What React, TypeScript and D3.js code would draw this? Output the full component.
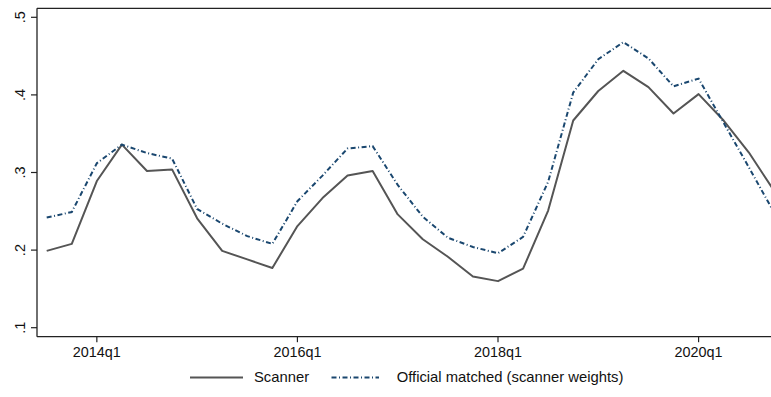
import React from "react";
import * as d3 from "d3";

// Quarterly series, 2013q3 through 2020q4
const quarters = [
  "2013q3", "2013q4", "2014q1", "2014q2", "2014q3", "2014q4",
  "2015q1", "2015q2", "2015q3", "2015q4", "2016q1", "2016q2",
  "2016q3", "2016q4", "2017q1", "2017q2", "2017q3", "2017q4",
  "2018q1", "2018q2", "2018q3", "2018q4", "2019q1", "2019q2",
  "2019q3", "2019q4", "2020q1", "2020q2", "2020q3", "2020q4",
];

const scanner = [
  0.199, 0.208, 0.289, 0.336, 0.302, 0.304,
  0.241, 0.199, 0.188, 0.177, 0.231, 0.267,
  0.296, 0.302, 0.246, 0.214, 0.1915, 0.166,
  0.160, 0.176, 0.251, 0.367, 0.405, 0.431,
  0.410, 0.376, 0.401, 0.367, 0.326, 0.277,
];

const officialMatched = [
  0.242, 0.249, 0.312, 0.336, 0.325, 0.318,
  0.253, 0.234, 0.218, 0.208, 0.263, 0.296,
  0.331, 0.334, 0.284, 0.243, 0.216, 0.204,
  0.196, 0.217, 0.288, 0.403, 0.446, 0.468,
  0.447, 0.411, 0.421, 0.364, 0.307, 0.249,
];

const xTickLabels = ["2014q1", "2016q1", "2018q1", "2020q1"];
const yTicks = [0.1, 0.2, 0.3, 0.4, 0.5];

const W = 771;
const H = 397;
const FONT = "'Liberation Sans', Arial, sans-serif";

export default function App() {
  const plotLeft = 37;
  const plotTop = 8.3;
  const plotBottom = 336.7;

  const x = d3.scaleLinear().domain([0, quarters.length - 1]).range([46.7, 773.8]);
  const y = d3.scaleLinear().domain([0.1, 0.5]).range([327.7, 17.3]);

  const line = d3
    .line<number>()
    .x((_, i) => x(i))
    .y((d) => y(d));

  const yLabel = (v: number) => d3.format(".1f")(v).replace(/^0/, "");

  return (
    <svg
      width={W}
      height={H}
      style={{ position: "absolute", left: 0, top: 0, background: "#fff" }}
      fontFamily={FONT}
    >
      <defs>
        <clipPath id="plot-clip">
          <rect x={plotLeft} y={plotTop} width={W - plotLeft} height={plotBottom - plotTop} />
        </clipPath>
      </defs>

      {/* plot frame: top outline and axes */}
      <line x1={plotLeft} x2={W} y1={plotTop} y2={plotTop} stroke="#222" strokeWidth={1.2} />
      <line x1={plotLeft} x2={plotLeft} y1={plotTop} y2={plotBottom} stroke="#222" strokeWidth={1.3} />
      <line x1={plotLeft} x2={W} y1={plotBottom} y2={plotBottom} stroke="#222" strokeWidth={1.3} />

      {/* y axis ticks and rotated labels */}
      {yTicks.map((t) => (
        <g key={t}>
          <line x1={plotLeft - 6} x2={plotLeft} y1={y(t)} y2={y(t)} stroke="#222" strokeWidth={1.2} />
          <text
            transform={`translate(25,${y(t)}) rotate(-90)`}
            textAnchor="middle"
            fontSize={14.5}
            fill="#111"
          >
            {yLabel(t)}
          </text>
        </g>
      ))}

      {/* x axis ticks and labels */}
      {xTickLabels.map((q) => {
        const xi = x(quarters.indexOf(q));
        return (
          <g key={q}>
            <line x1={xi} x2={xi} y1={plotBottom} y2={plotBottom + 5.5} stroke="#222" strokeWidth={1.2} />
            <text x={xi} y={356.8} textAnchor="middle" fontSize={14.4} fill="#111">
              {q}
            </text>
          </g>
        );
      })}

      {/* series */}
      <g clipPath="url(#plot-clip)">
        <path d={line(scanner) ?? ""} fill="none" stroke="#555555" strokeWidth={2} strokeLinejoin="round" />
        <path
          d={line(officialMatched) ?? ""}
          fill="none"
          stroke="#1a476f"
          strokeWidth={2}
          strokeDasharray="5,2.5,1,2.5"
        />
      </g>

      {/* legend */}
      <line x1={190} x2={243} y1={377.5} y2={377.5} stroke="#555555" strokeWidth={2} />
      <text x={254} y={382} fontSize={14.8} fill="#111">
        Scanner
      </text>
      <line
        x1={331.5}
        x2={379}
        y1={377.5}
        y2={377.5}
        stroke="#1a476f"
        strokeWidth={2}
        strokeDasharray="5,2.5,1,2.5"
      />
      <text x={396.7} y={382} fontSize={14.8} fill="#111">
        Official matched (scanner weights)
      </text>
    </svg>
  );
}
